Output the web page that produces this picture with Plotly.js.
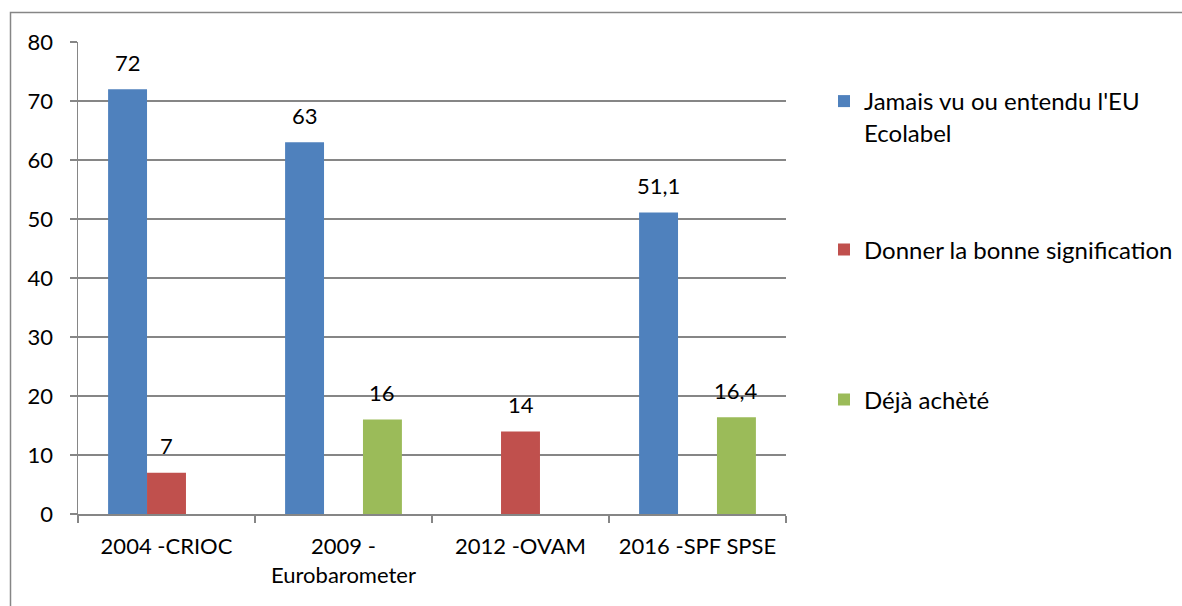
<!DOCTYPE html>
<html><head><meta charset="utf-8">
<script src="https://cdn.plot.ly/plotly-3.0.1.min.js"></script>
<style>html,body{margin:0;padding:0;background:#fff}#c{width:1182px;height:606px}</style>
</head><body><div id="c"></div>
<script>
const categories = ["2004 -CRIOC", "2009 -<br>Eurobarometer", "2012 -OVAM", "2016 -SPF SPSE"];
const seriesNames = ["Jamais vu ou entendu l'EU<br>Ecolabel", "Donner la bonne signification", "Déjà achèté"];
const jamais = [72, 63, null, 51.1];
const donner = [7, null, 14, null];
const deja = [null, 16, null, 16.4];
const colors = ["#4F81BD", "#C0504D", "#9BBB59"];
const yTicks = [0, 10, 20, 30, 40, 50, 60, 70, 80];

const FONT = "Lato, 'Open Sans', sans-serif";
const fmt = v => String(v).replace(".", ",");
const L = 78, R = 786, T = 42, B = 514, W = 1182, H = 606;
const BARGAP = 0.34;
const series = [jamais, donner, deja];
const legendIds = ["legend", "legend2", "legend3"];
const legendCenters = [117, 250, 400];

const px2x = p => (p - L) / (R - L);
const px2y = p => (B - p) / (B - T);

const traces = series.map((vals, i) => ({
  type: "bar",
  name: seriesNames[i],
  x: categories,
  y: vals,
  marker: {color: colors[i]},
  legend: legendIds[i],
  hoverinfo: "x+y"
}));

// data labels above bars, aligned to each bar of the group
const groupPx = (R - L) / categories.length;
const barPx = groupPx * (1 - BARGAP) / series.length;
const annotations = [];
series.forEach((vals, i) => {
  vals.forEach((v, j) => {
    if (v === null) return;
    annotations.push({
      x: categories[j], y: v, xref: "x", yref: "y",
      text: fmt(v), showarrow: false,
      xanchor: "center", yanchor: "middle",
      xshift: (i - (series.length - 1) / 2) * barPx, yshift: 27,
      font: {family: FONT, size: 22, color: "#000"}
    });
  });
});

const legendBase = {
  xanchor: "left", yanchor: "middle",
  valign: "top",
  bgcolor: "rgba(0,0,0,0)",
  font: {family: FONT, size: 24, color: "#000"},
  itemwidth: 30
};

const layout = {
  width: W, height: H,
  margin: {l: L, r: W - R, t: T, b: H - B, autoexpand: false},
  paper_bgcolor: "#fff", plot_bgcolor: "#fff",
  barmode: "group",
  bargap: BARGAP, bargroupgap: 0,
  font: {family: FONT, size: 22, color: "#000"},
  separators: ", ",
  xaxis: {
    type: "category",
    tickson: "boundaries",
    ticks: "outside", ticklen: 7, tickcolor: "#868686", tickwidth: 1.5,
    showline: true, linecolor: "#868686", linewidth: 1.5,
    showgrid: false,
    tickfont: {family: FONT, size: 22, color: "#000"},
    ticklabelstandoff: 12
  },
  yaxis: {
    range: [0, 80],
    tickvals: yTicks,
    ticks: "outside", ticklen: 7, tickcolor: "#868686", tickwidth: 1.5,
    showline: true, linecolor: "#868686", linewidth: 1.5,
    showgrid: true, gridcolor: "#868686", gridwidth: 1.2,
    zeroline: false,
    tickfont: {family: FONT, size: 22, color: "#000"},
    ticklabelstandoff: 12
  },
  legend: Object.assign({}, legendBase, {x: px2x(824), y: px2y(legendCenters[0])}),
  legend2: Object.assign({}, legendBase, {x: px2x(824), y: px2y(legendCenters[1])}),
  legend3: Object.assign({}, legendBase, {x: px2x(824), y: px2y(legendCenters[2])}),
  annotations: annotations,
  shapes: [{
    type: "path", xref: "paper", yref: "paper",
    path: `M ${px2x(10.5)} ${px2y(H + 5)} L ${px2x(10.5)} ${px2y(12.5)} L ${px2x(W + 5)} ${px2y(12.5)}`,
    line: {color: "#868686", width: 1.5}
  }],
  showlegend: true
};

Plotly.newPlot("c", traces, layout, {displayModeBar: false, staticPlot: true});
</script></body></html>
